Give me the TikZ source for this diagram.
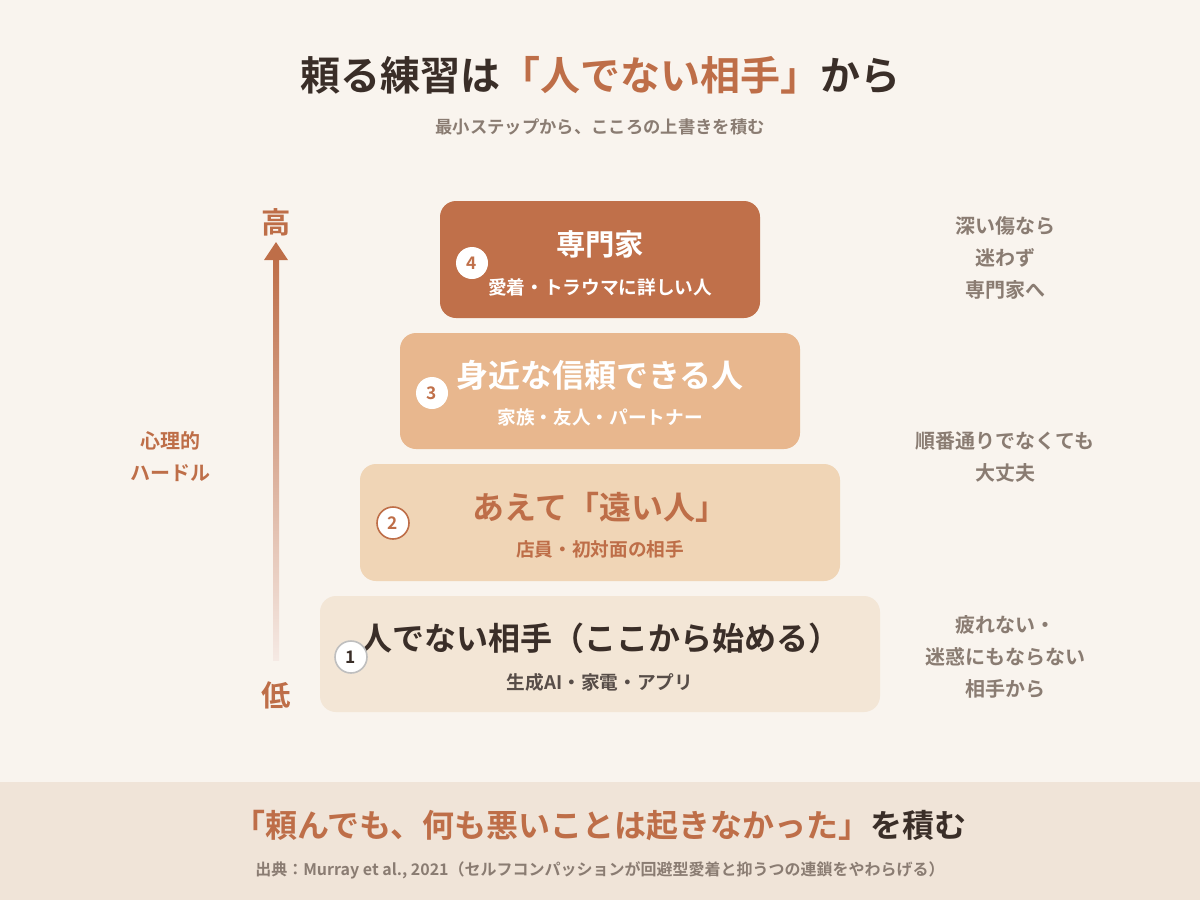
\documentclass[tikz,border=0pt]{standalone}
\usepackage{fontspec}
\setmainfont{Noto Sans CJK JP}[BoldFont={* Bold}]
\usetikzlibrary{arrows.meta}
\definecolor{bg}{HTML}{F9F4EE}
\definecolor{band}{HTML}{F0E4D8}
\definecolor{ink}{HTML}{3A2E28}
\definecolor{rust}{HTML}{BE6E48}
\definecolor{grayt}{HTML}{8A7C72}
\definecolor{lvA}{HTML}{F3E6D6}
\definecolor{lvB}{HTML}{F0D5B6}
\definecolor{lvC}{HTML}{E8B78E}
\definecolor{lvD}{HTML}{C0704A}
\tikzset{
  lvbox/.style={rounded corners=12pt, draw=none},
  numdot/.style={circle, fill=white, minimum size=24pt, inner sep=0pt, font=\bfseries\fontsize{13}{13}\selectfont},
  note/.style={align=center, text=grayt, font=\bfseries\fontsize{15}{24}\selectfont}
}
\begin{document}
\begin{tikzpicture}[x=0.75pt,y=-0.75pt]
  \fill[bg] (0,0) rectangle (1200,900);
  \fill[band] (0,782) rectangle (1200,900);
  \useasboundingbox (0,0) rectangle (1200,900);

  \node (title) at (600,75) {\bfseries\fontsize{30}{30}\selectfont\color{ink}頼る練習は\textcolor{rust}{「人でない相手」}から};
  \node (sub) at (600,127) {\bfseries\fontsize{13}{13}\selectfont\color{grayt}最小ステップから、こころの上書きを積む};

  % levels
  \fill[lvbox, lvD] (440,201) rectangle (760,318);
  \fill[lvbox, lvC] (400,333) rectangle (800,449);
  \fill[lvbox, lvB] (360,464) rectangle (840,581);
  \fill[lvbox, lvA] (320,596) rectangle (880,712);

  \node[text=white] (l4) at (600,244) {\bfseries\fontsize{22}{22}\selectfont 専門家};
  \node[text=white] (l4s) at (600,287) {\bfseries\fontsize{14}{14}\selectfont 愛着・トラウマに詳しい人};
  \node[text=white] (l3) at (600,375) {\bfseries\fontsize{24}{24}\selectfont 身近な信頼できる人};
  \node[text=white] (l3s) at (600,417) {\bfseries\fontsize{14}{14}\selectfont 家族・友人・パートナー};
  \node[text=rust] (l2) at (600,507) {\bfseries\fontsize{24}{24}\selectfont あえて「遠い人」};
  \node[text=rust] (l2s) at (600,549) {\bfseries\fontsize{14}{14}\selectfont 店員・初対面の相手};
  \node[text=ink] (l1) at (600,638) {\bfseries\fontsize{24}{24}\selectfont 人でない相手（ここから始める）};
  \node[text=ink!85] (l1s) at (600,682) {\bfseries\fontsize{14}{14}\selectfont 生成AI・家電・アプリ};

  \node[numdot, text=lvD] (n4) at (472,263) {4};
  \node[numdot, text=lvD] (n3) at (432,393) {3};
  \node[numdot, text=rust, draw=rust, line width=1.2pt] (n2) at (393,523) {2};
  \node[numdot, text=ink, draw=black!25, line width=1.2pt] (n1) at (351,657) {1};

  % hurdle axis
  \coordinate (lo) at (276,660);
  \coordinate (hi) at (276,242);
  \shade[top color=rust, bottom color=rust!15] (273,660) rectangle (279,258);
  \fill[rust] (264,260) -- (276,242) -- (288,260) -- cycle;
  \node[text=rust] (high) at (276,222) {\bfseries\fontsize{22}{22}\selectfont 高};
  \node[text=rust] (low) at (276,695) {\bfseries\fontsize{22}{22}\selectfont 低};
  \node[align=center, text=rust, font=\bfseries\fontsize{15}{24}\selectfont] (axis) at (170,457) {心理的\\ハードル};

  % notes
  \node[note] (c4) at (1005,258) {深い傷なら\\迷わず\\専門家へ};
  \node[note] (c3) at (1005,457) {順番通りでなくても\\大丈夫};
  \node[note] (c1) at (1005,657) {疲れない・\\迷惑にもならない\\相手から};

  \node (motto) at (600,826) {\bfseries\fontsize{24}{24}\selectfont\color{ink}\textcolor{rust}{「頼んでも、何も悪いことは起きなかった」}を積む};
  \node (cite) at (600,870) {\bfseries\fontsize{12}{12}\selectfont\color{grayt}出典：Murray et al., 2021（セルフコンパッションが回避型愛着と抑うつの連鎖をやわらげる）};
\end{tikzpicture}
\end{document}
